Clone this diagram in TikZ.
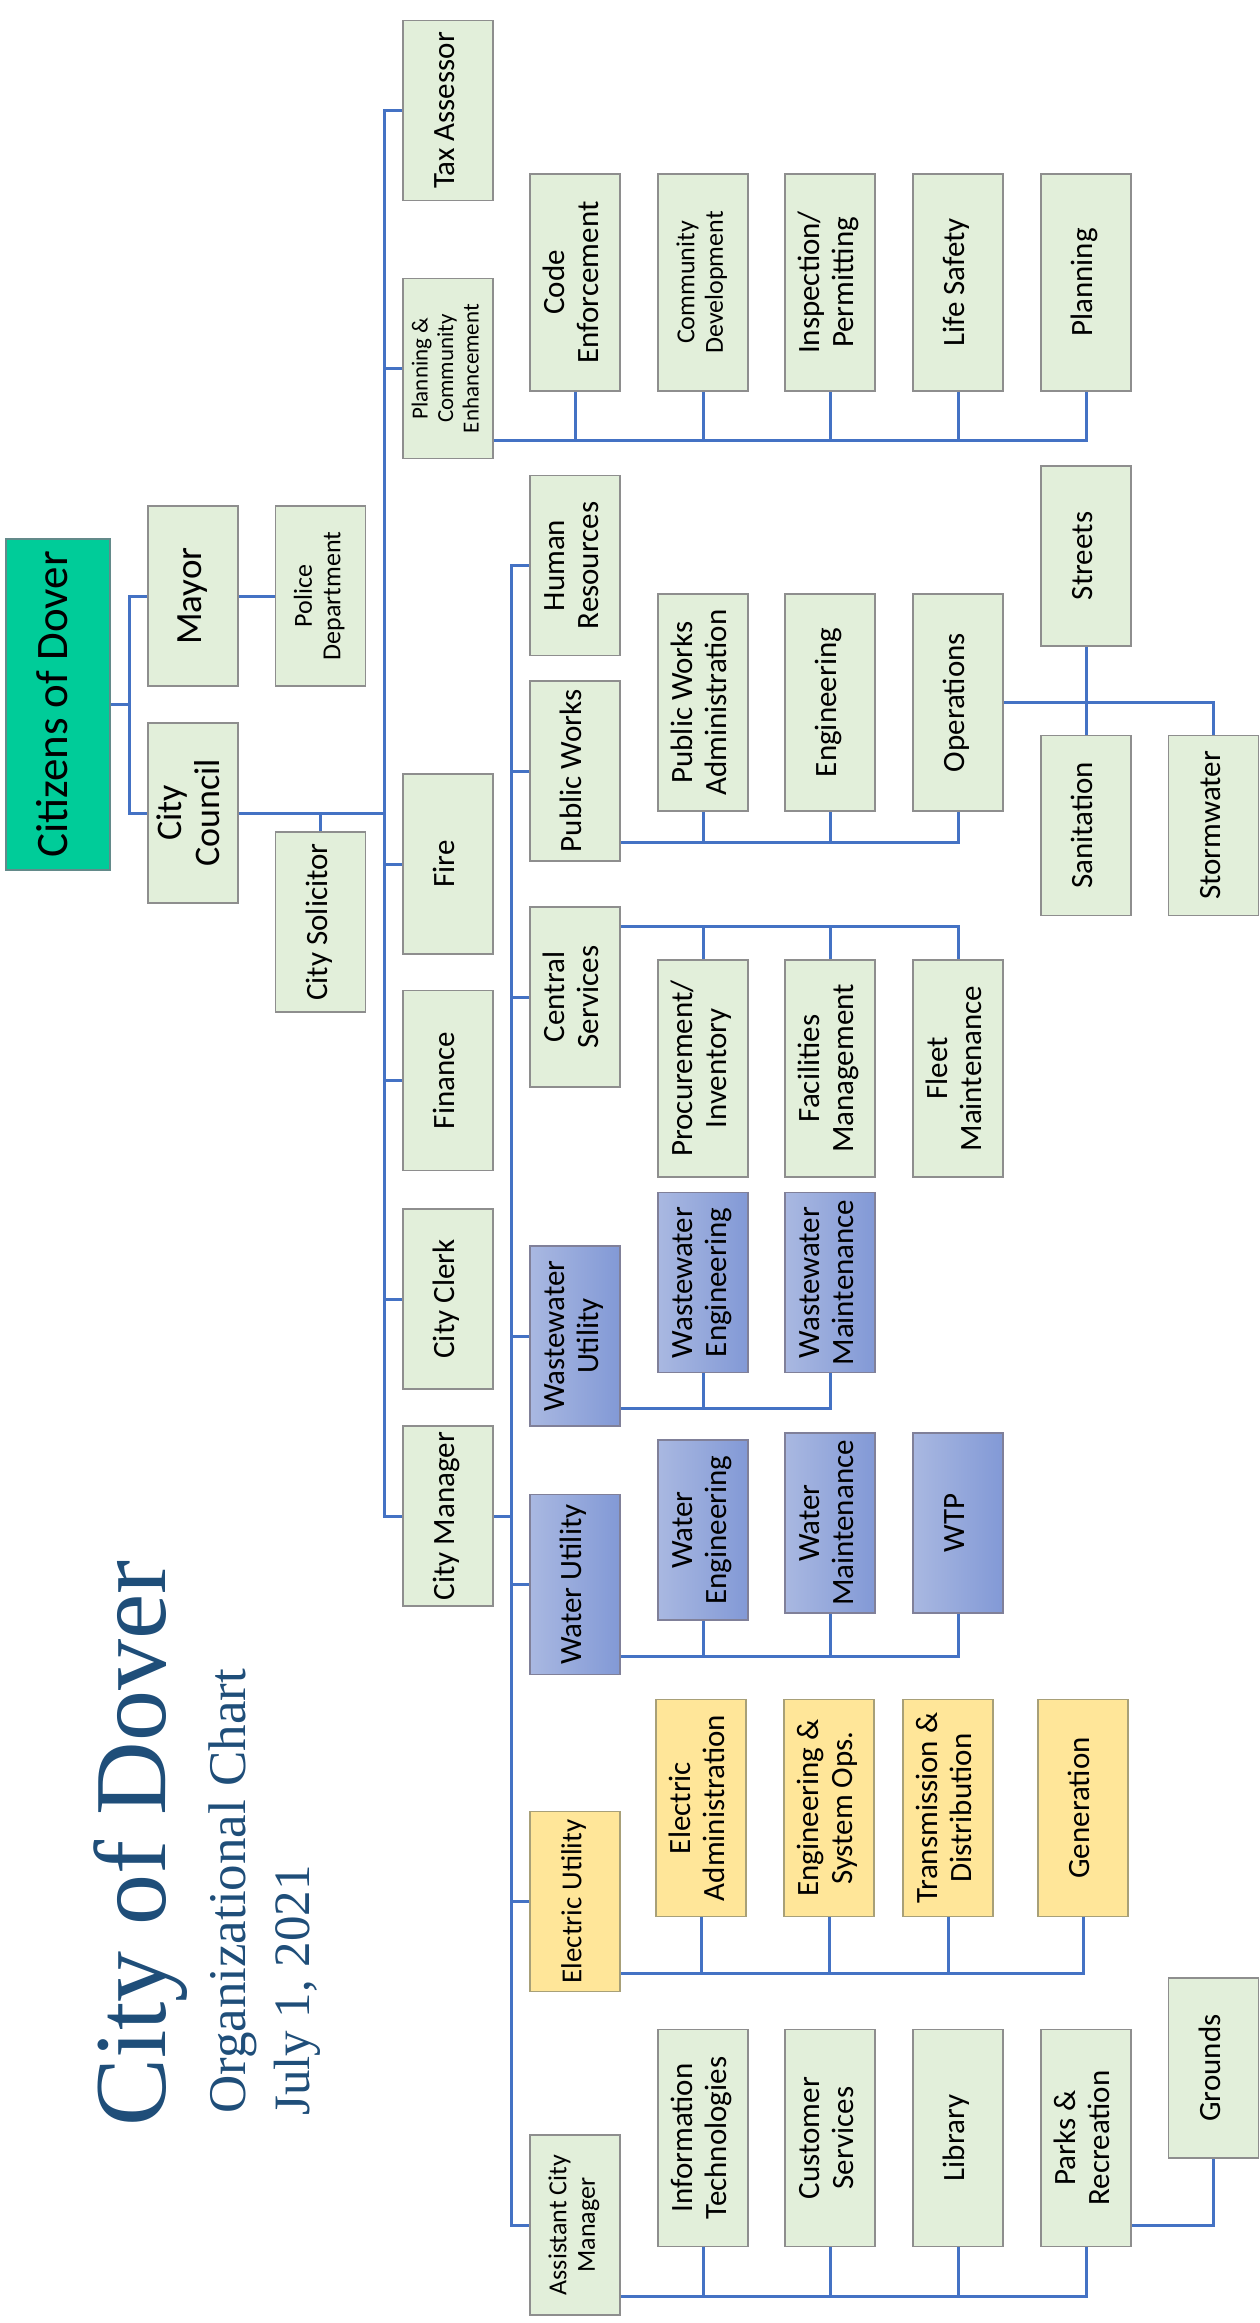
\documentclass[tikz,border=0pt]{standalone}
\usepackage{fontspec}
\setmainfont{Carlito}
\newfontfamily\titlefont{Liberation Serif}
\usepackage{graphicx}

\definecolor{lineblue}{HTML}{4472C4}
\definecolor{palegreen}{HTML}{E2EFDA}
\definecolor{edgegray}{HTML}{8E8E8E}
\definecolor{citizengreen}{HTML}{00CC99}
\definecolor{bluelight}{HTML}{A9B8E1}
\definecolor{bluedark}{HTML}{8299D6}
\definecolor{goldpale}{HTML}{FFE699}
\definecolor{goldedge}{HTML}{A8A078}
\definecolor{titleblue}{HTML}{1F4E79}

\tikzset{
  conn/.style={draw=lineblue, line width=3pt},
  dept/.style={draw=edgegray, line width=1.5pt, fill=palegreen, minimum width=90pt,
    minimum height=180pt, inner sep=0pt, font=\fontsize{31}{34}\selectfont},
  deep/.style={minimum height=217pt},
  smalltext/.style={font=\fontsize{26}{28.5}\selectfont},
  utility/.style={draw=edgegray!90!blue, left color=bluelight, right color=bluedark},
  power/.style={draw=goldedge, fill=goldpale},
  citizen/.style={fill=citizengreen, draw=edgegray!70!teal, minimum width=104pt,
    minimum height=331pt, font=\fontsize{45}{48}\selectfont},
  heading/.style={rotate=90, anchor=base west, inner sep=0pt, text=titleblue}
}

\newcommand{\vlabel}[1]{\rotatebox{90}{\begin{tabular}{@{}c@{}}#1\end{tabular}}}

\begin{document}
\begin{tikzpicture}[x=1pt, y=-1pt]
\useasboundingbox (0,0) rectangle (1259,2323);

% title
\node[heading, font=\titlefont\fontsize{102}{110}\selectfont] (title) at (165,2127) {City of Dover};
\node[heading, font=\titlefont\fontsize{53}{58}\selectfont] (subtitle) at (245,2114) {Organizational Chart};
\node[heading, font=\titlefont\fontsize{51}{56}\selectfont] (date) at (309,2116) {July 1, 2021};

% top of the chart
\node[dept, citizen] (citizens) at (58,704.5) {\vlabel{Citizens of Dover}};
\node[dept, font=\fontsize{37}{40}\selectfont] (mayor) at (193,596) {\vlabel{Mayor}};
\node[dept, font=\fontsize{36}{38}\selectfont] (council) at (193,813) {\vlabel{City\\Council}};
\node[dept, smalltext] (police) at (320.5,596) {\vlabel{Police\\Department}};
\node[dept] (solicitor) at (320.5,922) {\vlabel{City Solicitor}};

% offices under the council
\node[dept] (taxassessor) at (448,110.5) {\vlabel{Tax Assessor}};
\node[dept, font=\fontsize{23}{25.5}\selectfont] (planning) at (448,368.5) {\vlabel{Planning \&\\Community\\Enhancement}};
\node[dept] (fire) at (448,864) {\vlabel{Fire}};
\node[dept] (finance) at (448,1080.5) {\vlabel{Finance}};
\node[dept] (clerk) at (448,1299) {\vlabel{City Clerk}};
\node[dept] (manager) at (448,1516) {\vlabel{City Manager}};

% planning divisions
\node[dept, deep] (codeenf) at (575,282.5) {\vlabel{Code\\Enforcement}};
\node[dept, deep, smalltext] (commdev) at (703,282.5) {\vlabel{Community\\Development}};
\node[dept, deep] (inspection) at (830,282.5) {\vlabel{Inspection/\\Permitting}};
\node[dept, deep] (lifesafety) at (958,282.5) {\vlabel{Life Safety}};
\node[dept, deep] (planningdiv) at (1086,282.5) {\vlabel{Planning}};

% departments under the city manager
\node[dept] (hr) at (575,565.5) {\vlabel{Human\\Resources}};
\node[dept] (publicworks) at (575,771) {\vlabel{Public Works}};
\node[dept] (central) at (575,997) {\vlabel{Central\\Services}};
\node[dept, utility] (wastewater) at (575,1336) {\vlabel{Wastewater\\Utility}};
\node[dept, utility] (water) at (575,1584.5) {\vlabel{Water Utility}};
\node[dept, power, font=\fontsize{29}{32}\selectfont] (electric) at (575,1901.5) {\vlabel{Electric Utility}};
\node[dept, smalltext] (acm) at (575,2225) {\vlabel{Assistant City\\Manager}};

% public works
\node[dept, deep] (pwadmin) at (703,702.5) {\vlabel{Public Works\\Administration}};
\node[dept, deep] (engineering) at (830,702.5) {\vlabel{Engineering}};
\node[dept, deep] (operations) at (958,702.5) {\vlabel{Operations}};
\node[dept] (streets) at (1086,556) {\vlabel{Streets}};
\node[dept] (sanitation) at (1086,825.5) {\vlabel{Sanitation}};
\node[dept] (stormwater) at (1213.5,825.5) {\vlabel{Stormwater}};

% central services
\node[dept, deep] (procurement) at (703,1068.5) {\vlabel{Procurement/\\Inventory}};
\node[dept, deep] (facilities) at (830,1068.5) {\vlabel{Facilities\\Management}};
\node[dept, deep] (fleet) at (958,1068.5) {\vlabel{Fleet\\Maintenance}};

% wastewater and water
\node[dept, utility] (wweng) at (703,1282.5) {\vlabel{Wastewater\\Engineering}};
\node[dept, utility] (wwmaint) at (830,1282.5) {\vlabel{Wastewater\\Maintenance}};
\node[dept, utility] (watereng) at (703,1530) {\vlabel{Water\\Engineering}};
\node[dept, utility] (watermaint) at (830,1523) {\vlabel{Water\\Maintenance}};
\node[dept, utility] (wtp) at (958,1523) {\vlabel{WTP}};

% electric
\node[dept, deep, power] (elecadmin) at (701,1808) {\vlabel{Electric\\Administration}};
\node[dept, deep, power] (engsys) at (829,1808) {\vlabel{Engineering \&\\System Ops.}};
\node[dept, deep, power] (transdist) at (948,1808) {\vlabel{Transmission \&\\Distribution}};
\node[dept, deep, power] (generation) at (1083,1808) {\vlabel{Generation}};

% assistant city manager
\node[dept, deep] (infotech) at (703,2138) {\vlabel{Information\\Technologies}};
\node[dept, deep] (customer) at (830,2138) {\vlabel{Customer\\Services}};
\node[dept, deep] (library) at (958,2138) {\vlabel{Library}};
\node[dept, deep] (parks) at (1086,2138) {\vlabel{Parks \&\\Recreation}};
\node[dept] (grounds) at (1213.5,2068) {\vlabel{Grounds}};

% trunks and buses
\coordinate (cjoin) at (129,0);
\coordinate (trunkA) at (384.5,0);
\coordinate (trunkB) at (511,0);
\coordinate (planbus) at (0,440);
\coordinate (pwbus) at (0,842);
\coordinate (csbus) at (0,926);
\coordinate (wwbus) at (0,1408);
\coordinate (waterbus) at (0,1656.5);
\coordinate (elecbus) at (0,1973);
\coordinate (acmbus) at (0,2296);
\coordinate (parksbus) at (0,2225);

\draw[conn] (citizens.east) -- (citizens.east -| cjoin);
\draw[conn] (mayor.west) -- (mayor.west -| cjoin) -- (council.west -| cjoin) -- (council.west);
\draw[conn] (mayor.east) -- (police.west);
\draw[conn] (council.east) -- (council.east -| trunkA);
\draw[conn] (solicitor.north) -- (solicitor.north |- council.east);
\draw[conn] (taxassessor.west) -- (taxassessor.west -| trunkA) -- (manager.west -| trunkA) -- (manager.west);
\foreach \n in {planning,fire,finance,clerk}
  \draw[conn] (\n.west) -- (\n.west -| trunkA);
\draw[conn] (manager.east) -- (manager.east -| trunkB);
\draw[conn] (hr.west) -- (hr.west -| trunkB) -- (acm.west -| trunkB) -- (acm.west);
\foreach \n in {publicworks,central,wastewater,water,electric}
  \draw[conn] (\n.west) -- (\n.west -| trunkB);

\draw[conn] (planning.east |- planbus) -| (planningdiv.south);
\foreach \n in {codeenf,commdev,inspection,lifesafety}
  \draw[conn] (\n.south) -- (\n.south |- planbus);
\draw[conn] (publicworks.east |- pwbus) -| (operations.south);
\foreach \n in {pwadmin,engineering}
  \draw[conn] (\n.south) -- (\n.south |- pwbus);
\draw[conn] (operations.east) -| (stormwater.north);
\draw[conn] (streets.south) -- (sanitation.north);
\draw[conn] (central.east |- csbus) -| (fleet.north);
\foreach \n in {procurement,facilities}
  \draw[conn] (\n.north) -- (\n.north |- csbus);
\draw[conn] (wastewater.east |- wwbus) -| (wwmaint.south);
\draw[conn] (wweng.south) -- (wweng.south |- wwbus);
\draw[conn] (water.east |- waterbus) -| (wtp.south);
\foreach \n in {watereng,watermaint}
  \draw[conn] (\n.south) -- (\n.south |- waterbus);
\draw[conn] (electric.east |- elecbus) -| (generation.south);
\foreach \n in {elecadmin,engsys,transdist}
  \draw[conn] (\n.south) -- (\n.south |- elecbus);
\draw[conn] (acm.east |- acmbus) -| (parks.south);
\foreach \n in {infotech,customer,library}
  \draw[conn] (\n.south) -- (\n.south |- acmbus);
\draw[conn] (parks.east |- parksbus) -| (grounds.south);
\end{tikzpicture}
\end{document}
